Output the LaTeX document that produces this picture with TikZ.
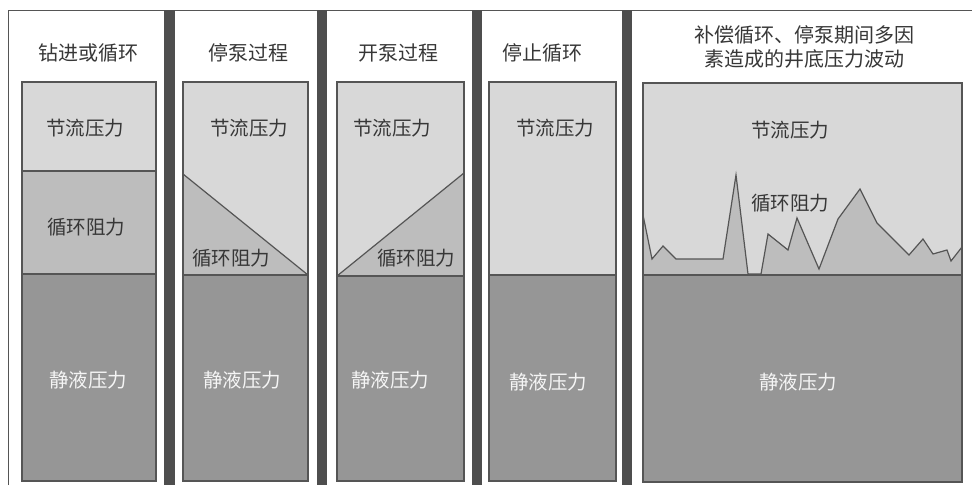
\documentclass[tikz,border=0pt]{standalone}
\usepackage{fontspec}
\newfontfamily\cjk{Noto Sans CJK SC}
\definecolor{lightfill}{RGB}{216,216,216}
\definecolor{midfill}{RGB}{189,189,189}
\definecolor{darkfill}{RGB}{150,150,150}
\definecolor{barfill}{RGB}{78,78,78}
\definecolor{edge}{RGB}{85,85,85}
\definecolor{txt}{RGB}{55,55,55}
\definecolor{wtxt}{RGB}{245,245,245}
\tikzset{
  edgeline/.style={draw=edge, line width=1.2pt},
  ttl/.style={font=\cjk\fontsize{20}{24}\selectfont, text=txt, inner sep=0pt, align=center},
  lbl/.style={font=\cjk\fontsize{19.5}{22}\selectfont, text=txt, inner sep=0pt},
  wlbl/.style={font=\cjk\fontsize{19.5}{22}\selectfont, text=wtxt, inner sep=0pt},
  sepbar/.style={fill=barfill, draw=none}
}
\begin{document}
\begin{tikzpicture}[x=1pt,y=-1pt]
\useasboundingbox (0,0) rectangle (972,485);
\fill[white] (0,0) rectangle (972,485);
% outer frame
\draw[edge, line width=1pt] (8,485) -- (8,10) -- (972,10);
% separator bars
\fill[sepbar] (164,10) rectangle (175,485);
\fill[sepbar] (317,10) rectangle (327,485);
\fill[sepbar] (472,10) rectangle (482,485);
\fill[sepbar] (622,10) rectangle (632,485);

% panel 1
\fill[lightfill] (22,82) rectangle (156,171);
\fill[midfill] (22,171) rectangle (156,274);
\fill[darkfill] (22,274) rectangle (156,481);
\draw[edgeline] (22,171) -- (156,171);
\draw[edgeline] (22,274) -- (156,274);
\draw[edgeline] (22,82) rectangle (156,481);

% panel 2
\fill[lightfill] (183,82) rectangle (308,275);
\fill[midfill] (183,174) -- (308,275) -- (183,275) -- cycle;
\fill[darkfill] (183,275) rectangle (308,481);
\draw[edgeline] (183,174) -- (308,275);
\draw[edgeline] (183,275) -- (308,275);
\draw[edgeline] (183,82) rectangle (308,481);

% panel 3
\fill[lightfill] (337,82) rectangle (464,276);
\fill[midfill] (337,276) -- (464,173) -- (464,276) -- cycle;
\fill[darkfill] (337,276) rectangle (464,481);
\draw[edgeline] (337,276) -- (464,173);
\draw[edgeline] (337,276) -- (464,276);
\draw[edgeline] (337,82) rectangle (464,481);

% panel 4
\fill[lightfill] (489,82) rectangle (616,275);
\fill[darkfill] (489,275) rectangle (616,481);
\draw[edgeline] (489,275) -- (616,275);
\draw[edgeline] (489,82) rectangle (616,481);

% panel 5
\fill[lightfill] (643,83) rectangle (962,275);
\fill[midfill] (643,215) -- (652,259) -- (663,246) -- (676,259) -- (723,259) -- (736,175)
  -- (748,274) -- (761,274) -- (768,234) -- (788,250) -- (797,218) -- (819,269)
  -- (838,219) -- (860,189) -- (877,223) -- (909,255) -- (923,239) -- (933,254)
  -- (947,250) -- (951,261) -- (962,247) -- (962,275) -- (643,275) -- cycle;
\fill[darkfill] (643,275) rectangle (962,482);
\draw[edgeline, line join=miter] (643,215) -- (652,259) -- (663,246) -- (676,259) -- (723,259) -- (736,175)
  -- (748,274) -- (761,274) -- (768,234) -- (788,250) -- (797,218) -- (819,269)
  -- (838,219) -- (860,189) -- (877,223) -- (909,255) -- (923,239) -- (933,254)
  -- (947,250) -- (951,261) -- (962,247);
\draw[edgeline] (643,275) -- (962,275);
\draw[edgeline] (643,83) rectangle (962,482);

% titles
\node[ttl] (t1) at (88,53) {钻进或循环};
\node[ttl] (t2) at (248,53) {停泵过程};
\node[ttl] (t3) at (398,53) {开泵过程};
\node[ttl] (t4) at (542,53) {停止循环};
\node[ttl] (t5) at (804,47) {补偿循环、停泵期间多因\\素造成的井底压力波动};

% labels
\node[lbl] (j1) at (85,128) {节流压力};
\node[lbl] (j2) at (249,128) {节流压力};
\node[lbl] (j3) at (392,128) {节流压力};
\node[lbl] (j4) at (555,128) {节流压力};
\node[lbl] (j5) at (790,130) {节流压力};

\node[lbl] (x1) at (86,227) {循环阻力};
\node[lbl] (x2) at (231,258) {循环阻力};
\node[lbl] (x3) at (416,258) {循环阻力};
\node[lbl] (x5) at (790,203) {循环阻力};

\node[wlbl] (s1) at (88,380) {静液压力};
\node[wlbl] (s2) at (242,380) {静液压力};
\node[wlbl] (s3) at (390,380) {静液压力};
\node[wlbl] (s4) at (548,382) {静液压力};
\node[wlbl] (s5) at (798,382) {静液压力};
\end{tikzpicture}
\end{document}
